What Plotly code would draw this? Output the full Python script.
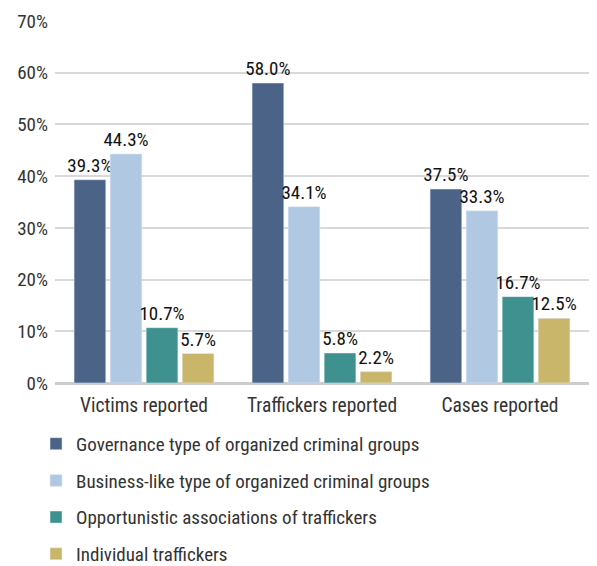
import plotly.graph_objects as go

categories = ["Victims reported", "Traffickers reported", "Cases reported"]
series_names = [
    "Governance type of organized criminal groups",
    "Business-like type of organized criminal groups",
    "Opportunistic associations of traffickers",
    "Individual traffickers",
]
governance = [39.3, 58.0, 37.5]
business = [44.3, 34.1, 33.3]
opportunistic = [10.7, 5.8, 16.7]
individual = [5.7, 2.2, 12.5]
colors = ["#4a6387", "#b1c8e2", "#3f918f", "#c9b66b"]
y_ticks = [0, 10, 20, 30, 40, 50, 60, 70]

FONT = "Roboto Condensed, Liberation Sans Narrow, Roboto, sans-serif"

fig = go.Figure()
for i, (name, vals) in enumerate(zip(series_names, [governance, business, opportunistic, individual])):
    fig.add_trace(go.Bar(
        x=categories, y=vals, name=name, marker_color=colors[i],
        text=[f"{v:.1f}%" for v in vals], textposition="outside",
        textfont=dict(size=19, color="#111111", family=FONT),
        constraintext="none", cliponaxis=False, legendgroup=f"g{i}",
    ))

fig.update_layout(
    width=589, height=558,
    margin=dict(l=47, r=0, t=13, b=183, autoexpand=False),
    paper_bgcolor="white", plot_bgcolor="white",
    barmode="group", bargap=0.19, bargroupgap=0.12,
    font=dict(family=FONT, size=19, color="#333333"),
    showlegend=True,
    legend=dict(orientation="v", x=-0.035, xanchor="left",
                yref="container", y=0.253, yanchor="top",
                font=dict(size=19, color="#333333", family=FONT),
                tracegroupgap=9, traceorder="grouped", itemwidth=30),
    xaxis=dict(showgrid=False, tickfont=dict(size=19.5, color="#333333"), ticks="",
               range=[-0.5, 2.545], ticklabelstandoff=8),
    yaxis=dict(range=[0, 70], tickvals=y_ticks, ticktext=[f"{t}%" for t in y_ticks],
               gridcolor="#d9d9d9", gridwidth=1.5, zeroline=True, zerolinecolor="#cccccc",
               zerolinewidth=2.5, tickfont=dict(size=19, color="#333333"), ticks="",
               ticklabelstandoff=6),
)
fig.write_html("out.html")
